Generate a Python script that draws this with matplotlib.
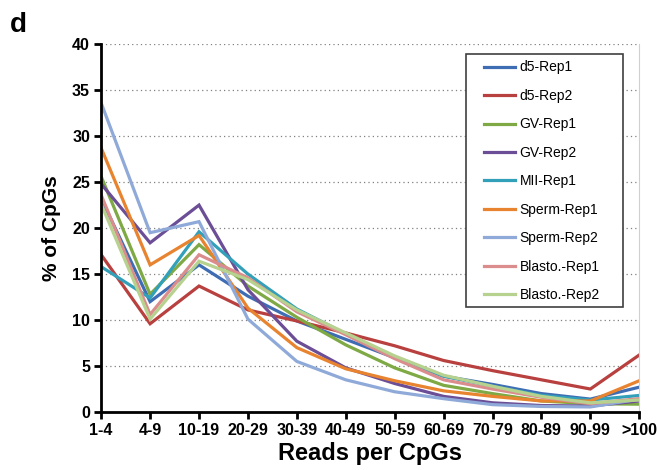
import matplotlib
matplotlib.use("Agg")
import matplotlib.pyplot as plt
from matplotlib.patches import Rectangle

categories = ["1-4", "4-9", "10-19", "20-29", "30-39", "40-49", "50-59",
              "60-69", "70-79", "80-89", "90-99", ">100"]

d5_rep1 = [23.2, 12.0, 16.0, 12.6, 9.9, 7.9, 5.9, 3.9, 3.0, 2.0, 1.4, 2.7]
d5_rep2 = [17.1, 9.6, 13.7, 11.1, 9.9, 8.6, 7.2, 5.6, 4.5, 3.5, 2.5, 6.2]
gv_rep1 = [25.6, 12.8, 18.2, 13.7, 10.3, 7.3, 4.8, 2.9, 2.0, 1.2, 0.9, 0.85]
gv_rep2 = [24.8, 18.4, 22.5, 13.3, 7.7, 4.8, 3.1, 1.7, 1.0, 0.7, 0.65, 1.2]
mii_rep1 = [15.8, 12.4, 19.6, 15.0, 11.2, 8.5, 5.9, 3.9, 2.8, 1.8, 1.3, 1.8]
sperm_rep1 = [28.7, 16.0, 19.2, 11.3, 7.0, 4.7, 3.4, 2.3, 1.7, 1.2, 1.2, 3.4]
sperm_rep2 = [33.6, 19.5, 20.7, 10.1, 5.5, 3.5, 2.2, 1.45, 0.8, 0.6, 0.55, 1.4]
blasto_rep1 = [23.6, 10.6, 17.1, 14.6, 10.9, 8.4, 5.8, 3.5, 2.5, 1.6, 0.9, 1.45]
blasto_rep2 = [22.6, 10.1, 16.4, 14.4, 11.1, 8.6, 6.1, 4.0, 2.8, 1.7, 1.0, 1.3]

series = [
    ("d5-Rep1", d5_rep1, "#3E6DB3"),
    ("d5-Rep2", d5_rep2, "#B8403E"),
    ("GV-Rep1", gv_rep1, "#7FA944"),
    ("GV-Rep2", gv_rep2, "#6B4E96"),
    ("MII-Rep1", mii_rep1, "#33A0B9"),
    ("Sperm-Rep1", sperm_rep1, "#E8832F"),
    ("Sperm-Rep2", sperm_rep2, "#8FAAD8"),
    ("Blasto.-Rep1", blasto_rep1, "#DA8D8C"),
    ("Blasto.-Rep2", blasto_rep2, "#B7D28F"),
]

plt.rcParams['font.family'] = ['Liberation Sans', 'DejaVu Sans']

W, H = 657, 470
fig = plt.figure(figsize=(W / 100, H / 100), dpi=100)
ax = fig.add_axes([0.154, 0.1234, 0.819, 0.7826])

x = list(range(len(categories)))
for name, vals, col in series:
    ax.plot(x, vals, color=col, lw=2.3, label=name, solid_joinstyle='miter')

ax.set_xlim(0, len(categories) - 1)
ax.set_ylim(0, 40)
ax.set_yticks(range(0, 41, 5))
ax.set_xticks(x)
ax.set_xticklabels(categories, fontsize=11.5, fontweight='bold')
for lbl in ax.get_yticklabels():
    lbl.set_fontsize(11.5)
    lbl.set_fontweight('bold')

ax.yaxis.grid(True, linestyle=(0, (1, 2.5)), color='#808080', lw=0.9)
ax.set_axisbelow(True)

ax.spines['top'].set_visible(False)
ax.spines['right'].set_color('#d0d0d0')
ax.spines['right'].set_linewidth(0.8)
ax.spines['left'].set_linewidth(2)
ax.spines['bottom'].set_linewidth(2)
ax.tick_params(axis='both', direction='out', length=5, width=2, color='black', pad=3)

ax.set_xlabel("Reads per CpGs", fontsize=17, fontweight='bold', labelpad=3)
ax.set_ylabel("% of CpGs", fontsize=15, fontweight='bold', labelpad=8)

leg = fig.legend(*ax.get_legend_handles_labels(), loc='upper left',
                 bbox_to_anchor=(484 / W, 1 - 60.5 / H), frameon=False,
                 fontsize=10, handlelength=2.25, labelspacing=1.04,
                 borderpad=0.0, handletextpad=0.3, borderaxespad=0.0)
for h in leg.get_lines():
    h.set_linewidth(2.3)

fig.patches.append(Rectangle((466 / W, 1 - 307 / H), (623 - 466) / W, (307 - 54) / H,
                             transform=fig.transFigure, fill=True, facecolor='white',
                             edgecolor='#404040', lw=1.2, zorder=2))
leg.set_zorder(3)

fig.text(0.015, 0.947, "d", fontsize=20, fontweight='bold', va='center', ha='left')

fig.savefig("out.png", dpi=100)
